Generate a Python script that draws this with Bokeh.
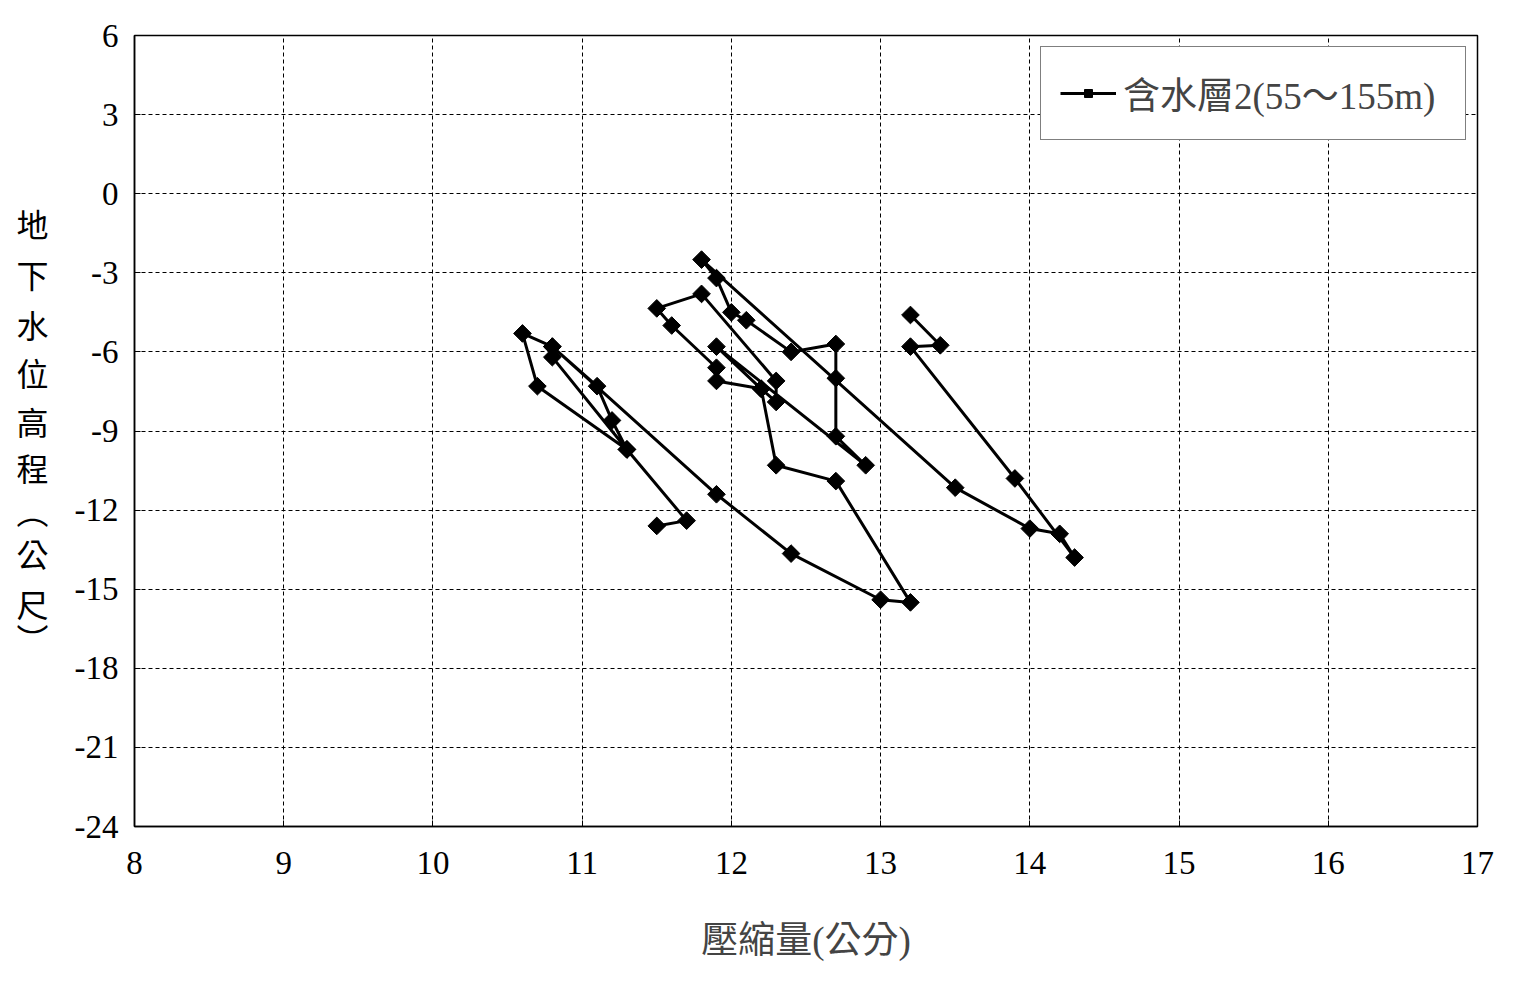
from bokeh.plotting import figure
from bokeh.models import ColumnDataSource, FixedTicker, Range1d, Legend, LegendItem, LinearAxis
from bokeh.embed import file_html
from bokeh.resources import INLINE

# Data (compression in cm, groundwater level in m), in drawing order
compression = [11.5, 11.7, 11.3, 10.7, 10.6, 10.8, 10.8, 11.3, 11.2, 11.1, 10.8, 11.9,
               12.4, 13.0, 13.2, 12.7, 12.3, 12.2, 11.9, 11.9, 11.6, 11.5, 11.8, 12.3,
               12.3, 12.2, 11.9, 12.9, 12.7, 12.7, 12.7, 12.4, 12.1, 12.0, 11.9, 11.8,
               13.5, 14.0, 14.2, 14.3, 13.9, 13.2, 13.4, 13.2]
water_level = [-12.6, -12.4, -9.7, -7.3, -5.3, -5.8, -6.2, -9.7, -8.6, -7.3, -5.8, -11.4,
               -13.65, -15.4, -15.5, -10.9, -10.3, -7.4, -7.1, -6.6, -5.0, -4.35, -3.8, -7.1,
               -7.9, -7.4, -5.8, -10.3, -9.2, -7.0, -5.7, -6.0, -4.8, -4.5, -3.2, -2.5,
               -11.15, -12.7, -12.9, -13.8, -10.8, -5.8, -5.75, -4.6]

x_ticks = [8, 9, 10, 11, 12, 13, 14, 15, 16, 17]
y_ticks = [6, 3, 0, -3, -6, -9, -12, -15, -18, -21, -24]
series_name = "含水層2(55～155m)"
x_title = "壓縮量(公分)"
y_title_chars = ["地", "下", "水", "位", "高", "程", "︵", "公", "尺", "︶"]

SERIF = "Liberation Serif, Noto Sans CJK TC"
CJK = "Noto Sans CJK TC"

W, H = 1515, 990
FL, FT, FR, FB = 134, 35, 1477, 826  # frame edges on the page
p = figure(width=W, height=H, output_backend="svg", toolbar_location=None,
           x_range=Range1d(8, 17), y_range=Range1d(-24, 6),
           min_border_left=FL, min_border_right=W - FR,
           min_border_top=FT, min_border_bottom=H - FB)

p.outline_line_color = "black"
p.outline_line_width = 1.5
p.background_fill_color = "white"
p.border_fill_color = "white"

xa, ya = p.xaxis[0], p.yaxis[0]
for ax in (xa, ya):
    ax.axis_line_color = "black"
    ax.axis_line_width = 1.5
    ax.major_tick_in = 6
    ax.major_tick_out = 0
    ax.minor_tick_line_color = None
    ax.major_label_text_font = SERIF
    ax.major_label_text_font_size = "33px"
    ax.major_label_text_color = "black"

xa.ticker = FixedTicker(ticks=x_ticks)
ya.ticker = FixedTicker(ticks=y_ticks)
ya.major_label_overrides = {t: str(t) for t in y_ticks}
xa.major_label_overrides = {t: str(t) for t in x_ticks}
xa.major_label_standoff = 25
ya.major_label_standoff = 16
xa.axis_label = x_title
xa.axis_label_text_font = SERIF
xa.axis_label_text_font_size = "37px"
xa.axis_label_text_font_style = "normal"
xa.axis_label_standoff = 43

p.grid.grid_line_color = "black"
p.grid.grid_line_dash = "4 3"
p.grid.grid_line_width = 1

# vertical y-axis title, one character per line, drawn as an outer label axis
frame_h = FB - FT
ys_px = [223, 273, 323, 372, 420, 467, 510, 553, 603, 637]
title_pos = [round(6 - (ypx - FT) * 30 / frame_h, 3) for ypx in ys_px]
ttl = LinearAxis(ticker=FixedTicker(ticks=title_pos),
                 major_label_overrides={t: ch for t, ch in zip(title_pos, y_title_chars)},
                 axis_line_color=None, major_tick_line_color=None,
                 minor_tick_line_color=None, major_label_standoff=17,
                 major_label_text_font=CJK, major_label_text_font_size="32px",
                 major_label_text_color="black")
p.add_layout(ttl, "left")

src = ColumnDataSource(dict(x=compression, y=water_level))
ln = p.line("x", "y", source=src, line_color="black", line_width=3)
mk = p.scatter("x", "y", source=src, marker="square", angle=0.785398, size=12.5,
               fill_color="black", line_color="black")

legend = Legend(items=[LegendItem(label=series_name, renderers=[ln, mk])],
                location="top_right", orientation="vertical")
legend.label_text_font = SERIF
legend.label_text_font_size = "37px"
legend.border_line_color = "black"
legend.border_line_width = 1.5
legend.padding = 19
legend.margin = 11
legend.glyph_width = 56
legend.label_standoff = 7
legend.label_width = 323
legend.background_fill_alpha = 1
p.add_layout(legend)

open("out.html", "w").write(file_html(p, INLINE))
